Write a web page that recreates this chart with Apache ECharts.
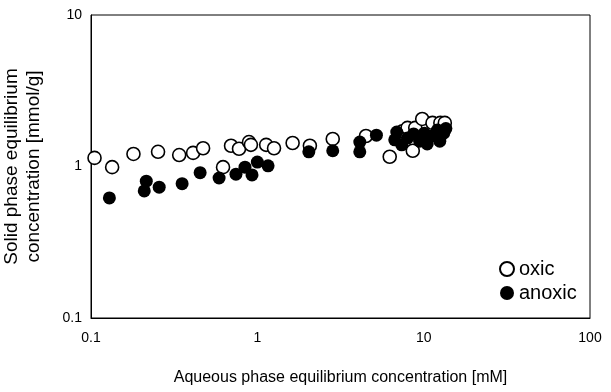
<!DOCTYPE html>
<html>
<head>
<meta charset="utf-8">
<script src="https://cdn.jsdelivr.net/npm/echarts@6/dist/echarts.min.js"></script>
<style>
  html, body { margin: 0; padding: 0; background: #fff; }
  #chart { width: 611px; height: 392px; }
</style>
</head>
<body>
<div id="chart"></div>
<script>
// aqueous (mM) / solid (mmol/g) pairs
const oxicX = [0.105, 0.134, 0.18, 0.253, 0.339, 0.411, 0.472, 0.622, 0.695, 0.776, 0.891, 0.915, 1.13, 1.26, 1.63, 2.07, 2.84, 4.5, 6.25, 7.45, 8.0, 8.9, 8.6, 9.8, 11.3, 12.6, 13.4]
const oxicY = [1.14, 0.99, 1.21, 1.25, 1.19, 1.23, 1.32, 0.99, 1.37, 1.31, 1.45, 1.39, 1.39, 1.32, 1.43, 1.37, 1.52, 1.59, 1.16, 1.71, 1.80, 1.80, 1.27, 2.06, 1.94, 1.94, 1.94]
const anoxicX = [0.129, 0.215, 0.209, 0.257, 0.353, 0.453, 0.589, 0.744, 0.843, 0.929, 1.0, 1.16, 2.04, 2.84, 4.13, 4.13, 5.2, 6.7, 6.89, 7.38, 8.0, 8.7, 9.46, 10.1, 10.5, 11.3, 12.1, 12.5, 13.2, 13.6]
const anoxicY = [0.62, 0.80, 0.69, 0.73, 0.77, 0.91, 0.84, 0.89, 0.99, 0.88, 1.07, 1.01, 1.25, 1.27, 1.45, 1.25, 1.61, 1.50, 1.69, 1.39, 1.54, 1.64, 1.47, 1.66, 1.41, 1.59, 1.74, 1.47, 1.66, 1.78]
const xTicks = [0.1, 1, 10, 100]
const yTicks = [0.1, 1, 10]

const pairs = (xs, ys) => xs.map((x, i) => [x, ys[i]])
const font = 'Liberation Sans, Arial, sans-serif'
const isTick = (ticks, v) => ticks.some(t => Math.abs(t - v) / t < 1e-6)

let myChart = echarts.init(document.getElementById('chart'))
myChart.setOption({
  animation: false,
  textStyle: { fontFamily: font, color: '#000' },
  grid: {
    left: 91, right: 21, top: 15, bottom: 74,
    outerBoundsMode: 'none', containLabel: false,
    show: true, borderColor: '#000', borderWidth: 1
  },
  legend: {
    orient: 'vertical',
    left: 494, top: 254,
    itemWidth: 14, itemHeight: 14, itemGap: 4,
    textStyle: { fontSize: 20, color: '#000', fontFamily: font },
    data: ['oxic', 'anoxic']
  },
  xAxis: {
    type: 'log', logBase: 10, min: 0.1, max: 100,
    name: 'Aqueous phase equilibrium concentration [mM]',
    nameLocation: 'middle', nameGap: 52,
    nameTextStyle: { fontSize: 16, color: '#000' },
    axisLine: { lineStyle: { color: '#000' } },
    axisTick: { show: false },
    splitLine: { show: false },
    axisLabel: {
      fontSize: 14, color: '#000', margin: 13,
      formatter: v => isTick(xTicks, v) ? String(+v.toPrecision(3)) : ''
    }
  },
  yAxis: {
    type: 'log', logBase: 10, min: 0.1, max: 10,
    name: 'Solid phase equilibrium\nconcentration [mmol/g]',
    nameLocation: 'middle', nameGap: 46, nameRotate: 90,
    nameTextStyle: { fontSize: 19, color: '#000', lineHeight: 22 },
    axisLine: { lineStyle: { color: '#000' } },
    axisTick: { show: false },
    splitLine: { show: false },
    axisLabel: {
      fontSize: 14, color: '#000', margin: 9,
      formatter: v => isTick(yTicks, v) ? String(+v.toPrecision(3)) : ''
    }
  },
  series: [
    {
      name: 'oxic', type: 'scatter', symbol: 'circle', symbolSize: 13,
      itemStyle: { color: '#fff', borderColor: '#000', borderWidth: 1.6, opacity: 1 },
      data: pairs(oxicX, oxicY)
    },
    {
      name: 'anoxic', type: 'scatter', symbol: 'circle', symbolSize: 13,
      itemStyle: { color: '#000', borderColor: '#000', borderWidth: 0, opacity: 1 },
      data: pairs(anoxicX, anoxicY)
    }
  ]
})
</script>
</body>
</html>
